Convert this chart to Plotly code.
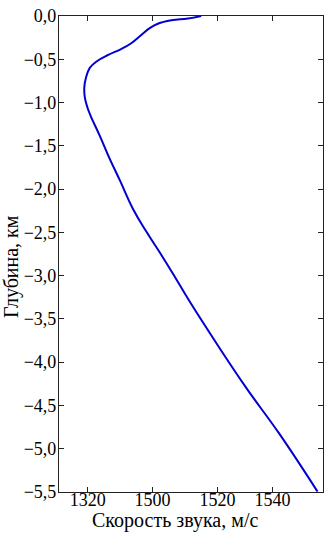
import plotly.graph_objects as go

# Sound speed profile (m/s) vs depth (km)
speed = [1515.0, 1510.9, 1505.8, 1501.6, 1499.1, 1496.5, 1493.4, 1490.4, 1486.3,
         1482.7, 1480.6, 1479.4, 1478.9, 1479.1, 1479.9, 1480.9, 1483.7, 1486.8,
         1489.9, 1493.9, 1498.1, 1502.7, 1506.8, 1511.4, 1518.6, 1528.8, 1539.1, 1550.9]
depth = [0.0, -0.03, -0.05, -0.09, -0.14, -0.22, -0.315, -0.38, -0.45,
         -0.525, -0.60, -0.717, -0.83, -0.946, -1.06, -1.156, -1.385, -1.654,
         -1.90, -2.227, -2.494, -2.761, -3.01, -3.297, -3.718, -4.291, -4.826, -5.495]

x_tick_vals = [1480, 1500, 1520, 1537]
x_tick_text = ["1320", "1500", "1520", "1540"]
y_tick_vals = [0.0, -0.5, -1.0, -1.5, -2.0, -2.5, -3.0, -3.5, -4.0, -4.5, -5.0, -5.5]

x_title = "Скорость звука, м/с"
y_title = "Глубина, км"

fig = go.Figure()
fig.add_trace(go.Scatter(x=speed, y=depth, mode="lines",
                         line=dict(color="#0000d0", width=2, shape="spline", smoothing=1.2),
                         showlegend=False, hoverinfo="skip"))

font_family = "Liberation Serif"
axis_common = dict(showline=True, linecolor="#222", linewidth=1.2, mirror="ticks",
                   ticks="inside", ticklen=5, tickwidth=1, tickcolor="#222",
                   showgrid=False, zeroline=False,
                   tickfont=dict(family=font_family, size=18, color="black"))

fig.update_layout(
    width=330, height=538,
    margin=dict(l=59, r=6, t=12, b=46),
    paper_bgcolor="white", plot_bgcolor="white",
    separators=", ",
    xaxis=dict(range=[1471.1, 1552.6], tickvals=x_tick_vals, ticktext=x_tick_text,
               ticklabelstandoff=-9, **axis_common),
    yaxis=dict(range=[-5.5, 0.0], tickvals=y_tick_vals, tickformat=".1f",
               ticklabelstandoff=-2, **axis_common),
    annotations=[
        dict(text=x_title, xref="paper", yref="paper", x=0.438, y=-0.059,
             xanchor="center", yanchor="middle", showarrow=False,
             font=dict(family=font_family, size=20, color="black")),
        dict(text=y_title, xref="paper", yref="paper", x=-0.177, y=0.473,
             xanchor="center", yanchor="middle", showarrow=False, textangle=-90,
             font=dict(family=font_family, size=20, color="black")),
    ],
)

fig.write_html("out.html")
